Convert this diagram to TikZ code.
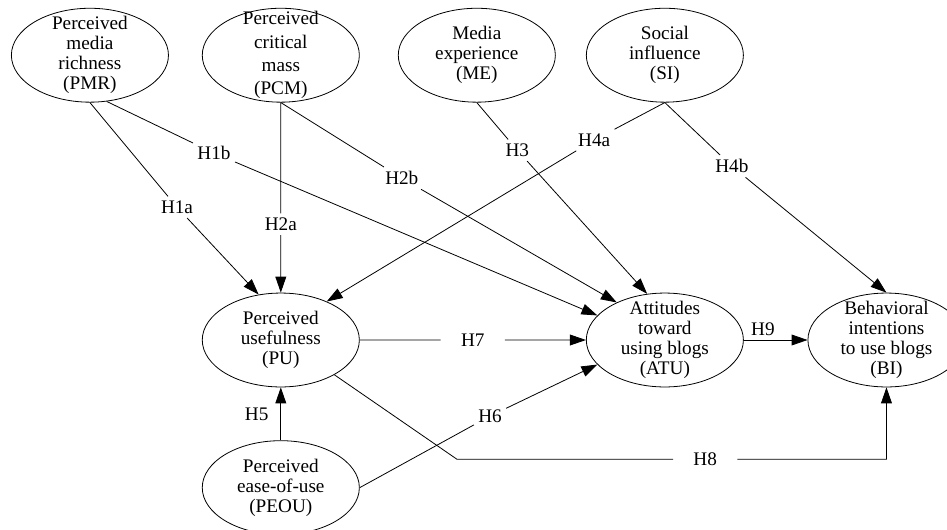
\documentclass[tikz,border=0pt]{standalone}
\usepackage{fontspec}
\setmainfont{Liberation Serif}
\usetikzlibrary{shapes.geometric, arrows.meta, positioning, calc}
\tikzset{
  construct/.style = {ellipse, draw=black, thin, align=center, minimum width=2.76cm, minimum height=1.65cm, inner xsep=0pt, inner ysep=-3.5pt, font=\fontsize{9.6}{10}\selectfont},
  hlabel/.style = {inner sep=2pt, font=\fontsize{9.6}{10}\selectfont},
  widelabel/.style = {hlabel, inner xsep=10pt},
  hyp/.style = {-{Triangle[length=2.8mm, width=1.9mm]}, thin}
}

\begin{document}
\begin{tikzpicture}
\useasboundingbox (0,0) rectangle (16.64,-9.31);

% Top row
\node[construct] (pmr) at (1.58,-0.97) {Perceived\\ media\\ richness\\ (PMR)};
\node[construct, right=0.58cm of pmr, font=\fontsize{9.6}{11.7}\selectfont, inner ysep=-5.5pt] (pcm) {Perceived\\ critical\\ mass\\ (PCM)};
\node[construct, right=0.67cm of pcm] (me) {Media\\ experience\\ (ME)};
\node[construct, right=0.53cm of me] (si) {Social\\ influence\\ (SI)};

% Middle row
\node[construct, below=3.34cm of pcm] (pu) {Perceived\\ usefulness\\ (PU)};
\node[construct, below=3.34cm of si] (atu) {Attitudes\\ toward\\ using blogs\\ (ATU)};
\node[construct, right=1.12cm of atu] (bi) {Behavioral\\ intentions\\ to use blogs\\ (BI)};

% Bottom
\node[construct, below=0.93cm of pu] (peou) {Perceived\\ ease-of-use\\ (PEOU)};

% Hypothesis labels
\node[hlabel] (h1a) at (3.11,-3.64) {H1a};
\node[hlabel] (h1b) at (3.76,-2.69) {H1b};
\node[hlabel] (h2a) at ($(pcm.south)!0.64!(pu.north)$) {H2a};
\node[hlabel] (h2b) at (7.06,-3.13) {H2b};
\node[hlabel] (h3) at (9.09,-2.64) {H3};
\node[hlabel] (h4a) at (10.44,-2.46) {H4a};
\node[hlabel] (h4b) at (12.86,-2.92) {H4b};
\node[hlabel] (h6) at (8.61,-7.31) {H6};
\node[widelabel] (h7) at ($(pu)!0.5!(atu)$) {H7};
\node[widelabel] (h8) at (12.39,-8.07) {H8};
\coordinate (h8bend) at (8.03,-8.07);
\coordinate (h8corner) at (h8bend -| bi.south);

% Arrows
\draw[hyp] (pmr.south) -- (h1a) -- (pu.116);
\draw[hyp] (pmr.-70) -- (h1b) -- (atu.160);
\draw[hyp] (pcm.south) -- (h2a) -- (pu.north);
\draw[hyp] (pcm.south) -- (h2b) -- (atu.142);
\draw[hyp] (me.south) -- (h3) -- (atu.111);
\draw[hyp] (si.south) -- (h4a) -- (pu.40);
\draw[hyp] (si.south) -- (h4b) -- (bi.north);
\draw[hyp] (peou) -- node[hlabel, left=4pt] {H5} (pu);
\draw[hyp] (peou.east) -- (h6) -- (atu.200);
\draw[hyp] (pu) -- (h7) -- (atu);
\draw[hyp] (pu.-33) -- (h8bend) -- (h8) -- (h8corner) -- (bi.south);
\draw[hyp] (atu) -- node[hlabel, above, pos=0.3] {H9} (bi);

\end{tikzpicture}
\end{document}
